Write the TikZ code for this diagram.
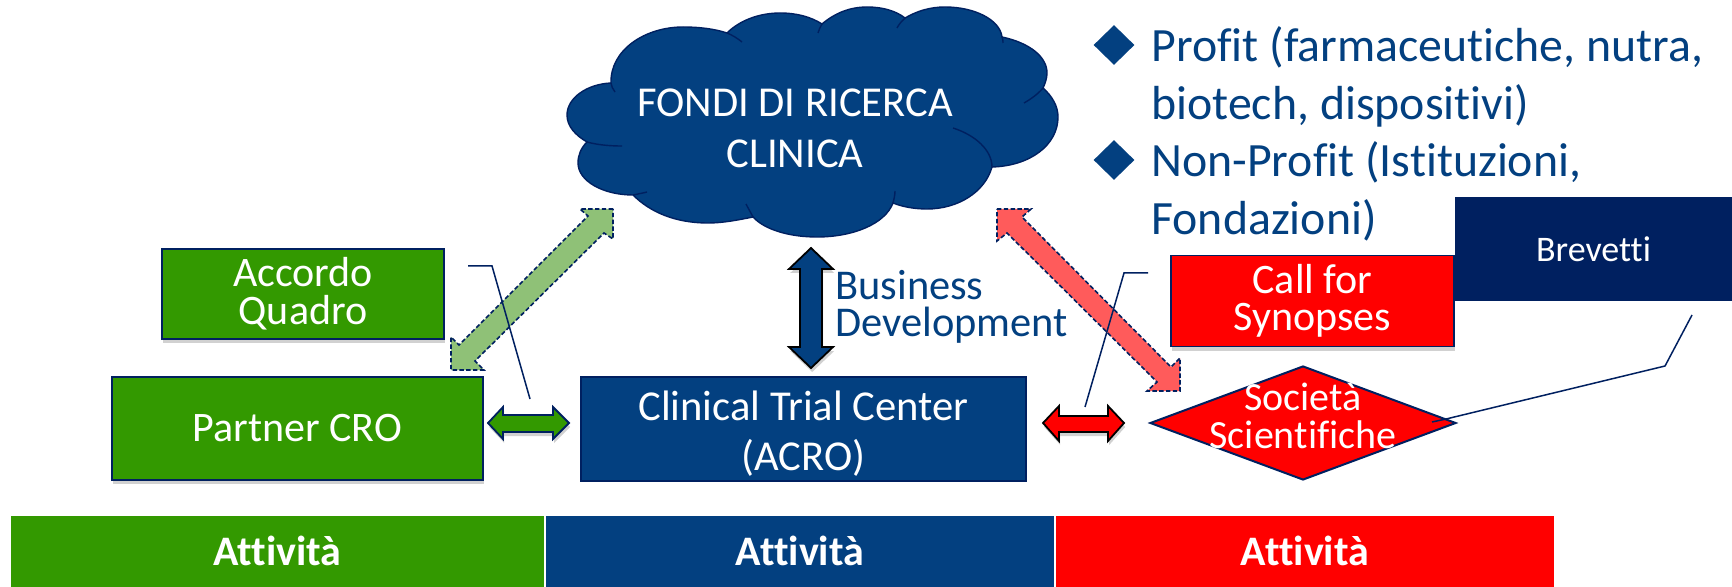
\documentclass[tikz,border=0pt]{standalone}
\usepackage{fontspec}
\setmainfont[RawFeature={-liga;-dlig;-clig}]{Carlito}
\usetikzlibrary{shapes.geometric,shadows}
\definecolor{cblue}{HTML}{034080}
\definecolor{cnavy}{HTML}{002060}
\definecolor{cgreen}{HTML}{339900}
\definecolor{cred}{HTML}{FF0000}
\definecolor{lgreen}{HTML}{8FC177}
\definecolor{lred}{HTML}{FF5B5B}
\tikzset{
  softshadow/.style={drop shadow={shadow xshift=.6pt,shadow yshift=-2pt,opacity=.18,fill=black}},
  boxn/.style={rectangle,draw=cnavy,line width=.8pt,inner sep=0pt,text=white,align=center},
  bar/.style={rectangle,inner sep=0pt,text=white,font=\fontsize{21}{25}\selectfont\bfseries,minimum height=35.5pt},
  label/.style={inner sep=0pt,text=white,align=center},
  bluetext/.style={inner sep=0pt,text=cblue,align=left},
  blockarrow/.style={line width=.9pt,line join=miter},
  diagarrow/.style={draw=cnavy,line width=.8pt,dash pattern=on 2.2pt off 1.2pt},
  callout/.style={draw=cnavy,line width=.75pt},
}
\begin{document}
\begin{tikzpicture}[x=0.5pt,y=-0.5pt]
\useasboundingbox (0,0) rectangle (1732,587);
\fill[white] (0,0) rectangle (1732,587);

% bottom bars
\node[bar,fill=cgreen,minimum width=266.5pt] (b1) at (277.5,551.5) {\raisebox{1pt}{Attività}};
\node[bar,fill=cblue,minimum width=254pt] (b2) at (800,551.5) {\raisebox{1pt}{Attività}};
\node[bar,fill=cred,minimum width=249pt] (b3) at (1305,551.5) {\raisebox{1pt}{Attività}};

% cloud
\path[fill=cblue,draw=cnavy,line width=.7pt] (587,142)
 .. controls (575,135) and (567,126) .. (567,115) .. controls (567,98) and (587,84) .. (611,83)
 .. controls (610,50) and (645,27) .. (683,27) .. controls (700,27) and (715,29) .. (727,33)
 .. controls (740,20) and (760,13) .. (780,13) .. controls (797,13) and (811,17) .. (822,24)
 .. controls (835,13) and (850,7) .. (867,7) .. controls (883,7) and (896,11) .. (905,18)
 .. controls (917,11) and (930,7) .. (945,7) .. controls (975,7) and (1000,20) .. (1002,37)
 .. controls (1030,43) and (1047,57) .. (1047,73) .. controls (1047,78) and (1045,84) .. (1043,88)
 .. controls (1052,96) and (1058,106) .. (1058,117) .. controls (1058,145) and (1030,166) .. (992,167)
 .. controls (985,192) and (958,209) .. (927,209) .. controls (915,209) and (903,207) .. (893,203)
 .. controls (885,224) and (853,237) .. (817,237) .. controls (790,237) and (765,230) .. (753,217)
 .. controls (738,220) and (723,223) .. (708,223) .. controls (675,223) and (650,212) .. (633,195)
 .. controls (603,195) and (578,181) .. (578,163) .. controls (578,155) and (581,148) .. (587,142) -- cycle;
\draw[cnavy,line width=.7pt]
 (587,142) .. controls (598,145) and (610,146) .. (622,146)
 (611,83) .. controls (611,86) and (613,89) .. (615,92)
 (727,33) .. controls (732,35) and (737,38) .. (742,42)
 (822,24) .. controls (820,27) and (819,30) .. (818,33)
 (905,18) .. controls (902,21) and (899,24) .. (897,28)
 (1002,37) .. controls (1003,39) and (1003,41) .. (1003,43)
 (1043,88) .. controls (1038,94) and (1031,99) .. (1024,103)
 (953,128) .. controls (975,135) and (992,150) .. (992,167)
 (893,203) .. controls (894,199) and (895,195) .. (895,191)
 (753,217) .. controls (751,213) and (748,208) .. (746,204)
 (633,195) .. controls (638,194) and (643,193) .. (647,192);
\node[label,font=\fontsize{21.3}{25.5}\selectfont] (cloudtext) at (795,128) {FONDI DI RICERCA\\CLINICA};

% bullets
\node[diamond,fill=cblue,minimum width=20.5pt,minimum height=20pt,inner sep=0pt,aspect=1] (d1) at (1114,45) {};
\node[diamond,fill=cblue,minimum width=20.5pt,minimum height=20pt,inner sep=0pt,aspect=1] (d2) at (1114,160) {};
\node[bluetext,anchor=north west,font=\fontsize{23.9}{29}\selectfont] (t1) at (1151,26) {Profit (farmaceutiche, nutra,\\biotech, dispositivi)};
\node[bluetext,anchor=north west,font=\fontsize{23.9}{29}\selectfont] (t2) at (1151,141) {Non-Profit (Istituzioni,\\Fondazioni)};

% boxes
\node[boxn,softshadow,fill=cgreen,minimum width=141pt,minimum height=45pt,font=\fontsize{21}{19}\selectfont] (acc) at (303,294) {Accordo\\Quadro};
\node[boxn,softshadow,fill=cgreen,minimum width=185.5pt,minimum height=51.5pt,font=\fontsize{21}{25}\selectfont] (cro) at (297.5,428.5) {Partner CRO};
\node[boxn,fill=cblue,minimum width=222.5pt,minimum height=52pt,font=\fontsize{21.3}{25}\selectfont] (ctc) at (803.5,429) {\rule{0pt}{19pt}Clinical Trial Center\\(ACRO)};
\node[boxn,softshadow,fill=cred,minimum width=141.5pt,minimum height=45.5pt,font=\fontsize{21}{18.5}\selectfont] (call) at (1312.5,301) {Call for\\Synopses};
\node[rectangle,inner sep=0pt,fill=cnavy,text=white,minimum width=138.5pt,minimum height=52pt,font=\fontsize{18}{19}\selectfont] (brev) at (1593.5,249) {\raisebox{-.5pt}{Brevetti}};
\node[diamond,draw=cnavy,fill=cred,line width=1pt,inner sep=0pt,aspect=2.68,minimum width=153pt,minimum height=57pt] (soc) at (1303,423) {};
\node[label,font=\fontsize{20}{19}\selectfont] (soctext) at (1303,416) {Società\\Scientifiche};

% business development label
\node[bluetext,anchor=north west,font=\fontsize{21.2}{18.5}\selectfont] (bd) at (835,270) {Business\\Development};

% callouts
\coordinate (a1) at (468,266); \coordinate (a2) at (492,266); \coordinate (a3) at (530,399);
\coordinate (c1) at (1148,273); \coordinate (c2) at (1124,273); \coordinate (c3) at (1085,407);
\coordinate (v1) at (1692,315); \coordinate (v2) at (1665,366); \coordinate (v3) at (1446,419); \coordinate (v4) at (1432,422);

% diagonal arrows
\path[fill=lgreen,diagarrow] (613,209) -- (580,209) -- (588,216) -- (459,345) -- (451,337) -- (451,370) -- (484,370) -- (475,361) -- (604,233) -- (613,239) -- cycle;
\path[fill=lred,diagarrow] (997,209) -- (1031,209) -- (1022,217) -- (1171,367) -- (1180,358) -- (1180,391) -- (1147,391) -- (1157,382) -- (1007,233) -- (997,241) -- cycle;
\draw[callout] (a1) -- (a2) -- (a3);
\draw[callout] (c1) -- (c2) -- (c3);
\draw[callout] (v1) -- (v2) -- (v3) -- (v4);

% small block arrows
\path[fill=cgreen,draw=cnavy,blockarrow,softshadow] (488,423) -- (503,407) -- (503,415) -- (553,415) -- (553,407) -- (569,423) -- (553,439) -- (553,432) -- (503,432) -- (503,439) -- cycle;
\path[fill=cred,draw=black,blockarrow,softshadow] (1043,423) -- (1059,406) -- (1059,416) -- (1108,416) -- (1108,406) -- (1124,423) -- (1108,441) -- (1108,432) -- (1059,432) -- (1059,441) -- cycle;
\path[fill=cblue,draw=black,blockarrow,softshadow] (811,248) -- (833,269) -- (822,269) -- (822,347) -- (833,347) -- (811,368) -- (789,347) -- (800,347) -- (800,269) -- (789,269) -- cycle;
\end{tikzpicture}
\end{document}
